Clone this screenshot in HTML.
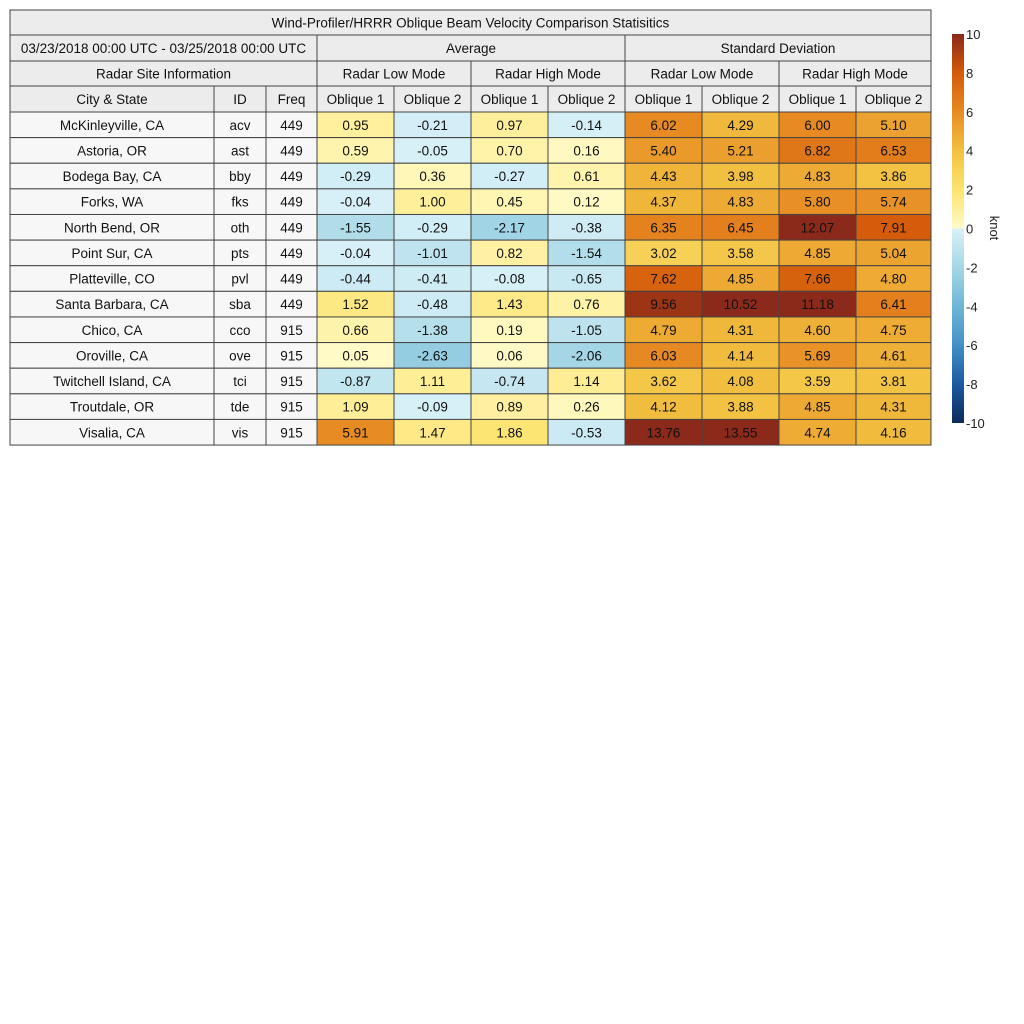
<!DOCTYPE html>
<html><head><meta charset="utf-8"><style>
body{margin:0;background:#fff;}
svg{display:block;font-family:"Liberation Sans",sans-serif;}
</style></head><body>
<svg id="c" width="1024" height="1024"></svg>
<script>
const cities=["McKinleyville, CA","Astoria, OR","Bodega Bay, CA","Forks, WA","North Bend, OR","Point Sur, CA","Platteville, CO","Santa Barbara, CA","Chico, CA","Oroville, CA","Twitchell Island, CA","Troutdale, OR","Visalia, CA"];
const ids=["acv","ast","bby","fks","oth","pts","pvl","sba","cco","ove","tci","tde","vis"];
const freqs=["449","449","449","449","449","449","449","449","915","915","915","915","915"];
const avgLow1=[0.95,0.59,-0.29,-0.04,-1.55,-0.04,-0.44,1.52,0.66,0.05,-0.87,1.09,5.91];
const avgLow2=[-0.21,-0.05,0.36,1.00,-0.29,-1.01,-0.41,-0.48,-1.38,-2.63,1.11,-0.09,1.47];
const avgHigh1=[0.97,0.70,-0.27,0.45,-2.17,0.82,-0.08,1.43,0.19,0.06,-0.74,0.89,1.86];
const avgHigh2=[-0.14,0.16,0.61,0.12,-0.38,-1.54,-0.65,0.76,-1.05,-2.06,1.14,0.26,-0.53];
const sdLow1=[6.02,5.40,4.43,4.37,6.35,3.02,7.62,9.56,4.79,6.03,3.62,4.12,13.76];
const sdLow2=[4.29,5.21,3.98,4.83,6.45,3.58,4.85,10.52,4.31,4.14,4.08,3.88,13.55];
const sdHigh1=[6.00,6.82,4.83,5.80,12.07,4.85,7.66,11.18,4.60,5.69,3.59,4.85,4.74];
const sdHigh2=[5.10,6.53,3.86,5.74,7.91,5.04,4.80,6.41,4.75,4.61,3.81,4.31,4.16];
const cbTicks=[10,8,6,4,2,0,-2,-4,-6,-8,-10];

const NS="http://www.w3.org/2000/svg";
const svg=document.getElementById('c');
function mk(t,a,p){const e=document.createElementNS(NS,t);for(const k in a)e.setAttribute(k,a[k]);(p||svg).appendChild(e);return e;}
const pos=[[0,"#fffbc8"],[2,"#fde36e"],[4,"#f2c040"],[6,"#e78a22"],[8,"#d45a0a"],[10,"#8b2a1a"]];
const neg=[[0,"#d8f1f8"],[2,"#a6d7e6"],[4,"#6db6d6"],[6,"#4290c6"],[8,"#1b5aa0"],[10,"#0c2a5a"]];
function hx(c){return [1,3,5].map(i=>parseInt(c.substr(i,2),16));}
function color(v){const s=v>=0?pos:neg;let a=Math.min(Math.abs(v),10);for(let i=0;i<s.length-1;i++){if(a<=s[i+1][0]){const t=(a-s[i][0])/(s[i+1][0]-s[i][0]);const c1=hx(s[i][1]),c2=hx(s[i+1][1]);return "rgb("+c1.map((x,j)=>Math.round(x+(c2[j]-x)*t)).join(",")+")";}}return s[s.length-1][1];}
const X=[10,214,266,317,394,471,548,625,702,779,856,931];
const top0=112,rh=25.62;
function cell(x1,y1,x2,y2,fill,txt,name){const g=mk('g',{});
mk('rect',{x:x1,y:y1,width:x2-x1,height:y2-y1,fill:fill,stroke:"#444","stroke-width":1},g);
const t=mk('text',{x:(x1+x2)/2,y:(y1+y2)/2+5,"text-anchor":"middle","font-size":13.5,fill:"#111"},g);t.textContent=txt;}
const H="#ececec";
cell(10,10,931,35,H,"Wind-Profiler/HRRR Oblique Beam Velocity Comparison Statisitics","table-title");
cell(10,35,317,61,H,"03/23/2018 00:00 UTC - 03/25/2018 00:00 UTC","date-range");
cell(317,35,625,61,H,"Average","average-header");
cell(625,35,931,61,H,"Standard Deviation","std-header");
cell(10,61,317,86,H,"Radar Site Information","site-info-header");
["Radar Low Mode","Radar High Mode","Radar Low Mode","Radar High Mode"].forEach((s,i)=>cell(X[3+2*i],61,X[5+2*i],86,H,s,"mode-header"));
["City & State","ID","Freq","Oblique 1","Oblique 2","Oblique 1","Oblique 2","Oblique 1","Oblique 2","Oblique 1","Oblique 2"].forEach((s,i)=>cell(X[i],86,X[i+1],112,H,s,"column-header"));
const series=[avgLow1,avgLow2,avgHigh1,avgHigh2,sdLow1,sdLow2,sdHigh1,sdHigh2];
cities.forEach((c,r)=>{const y1=top0+r*rh,y2=y1+rh;
cell(X[0],y1,X[1],y2,"#f7f7f7",c,"city-cell");cell(X[1],y1,X[2],y2,"#f7f7f7",ids[r],"id-cell");cell(X[2],y1,X[3],y2,"#f7f7f7",freqs[r],"freq-cell");
series.forEach((s,k)=>cell(X[3+k],y1,X[4+k],y2,color(s[r]),s[r].toFixed(2),"value-cell"));});
const defs=mk('defs',{});const lg=mk('linearGradient',{id:"cb",x1:0,y1:0,x2:0,y2:1},defs);
for(let v=10;v>0;v-=0.5){mk('stop',{offset:((10-v)/20),"stop-color":color(v)},lg);}
mk('stop',{offset:0.5,"stop-color":color(0.0001)},lg);
mk('stop',{offset:0.5,"stop-color":color(-0.0001)},lg);
for(let v=-0.5;v>=-10;v-=0.5){mk('stop',{offset:((10-v)/20),"stop-color":color(v)},lg);}
const cbTop=34,cbBot=423;const cy=v=>cbTop+(10-v)/20*(cbBot-cbTop);
const cb=mk('rect',{x:952,y:cbTop,width:12,height:cbBot-cbTop,fill:"url(#cb)"});
cbTicks.forEach(v=>{const t=mk('text',{x:966,y:cy(v)+5,"font-size":13,fill:"#222"});t.textContent=v;});
const u=mk('text',{x:0,y:0,"font-size":13,fill:"#222",transform:"translate(990,228) rotate(90)","text-anchor":"middle"});u.textContent="knot";
</script></body></html>
